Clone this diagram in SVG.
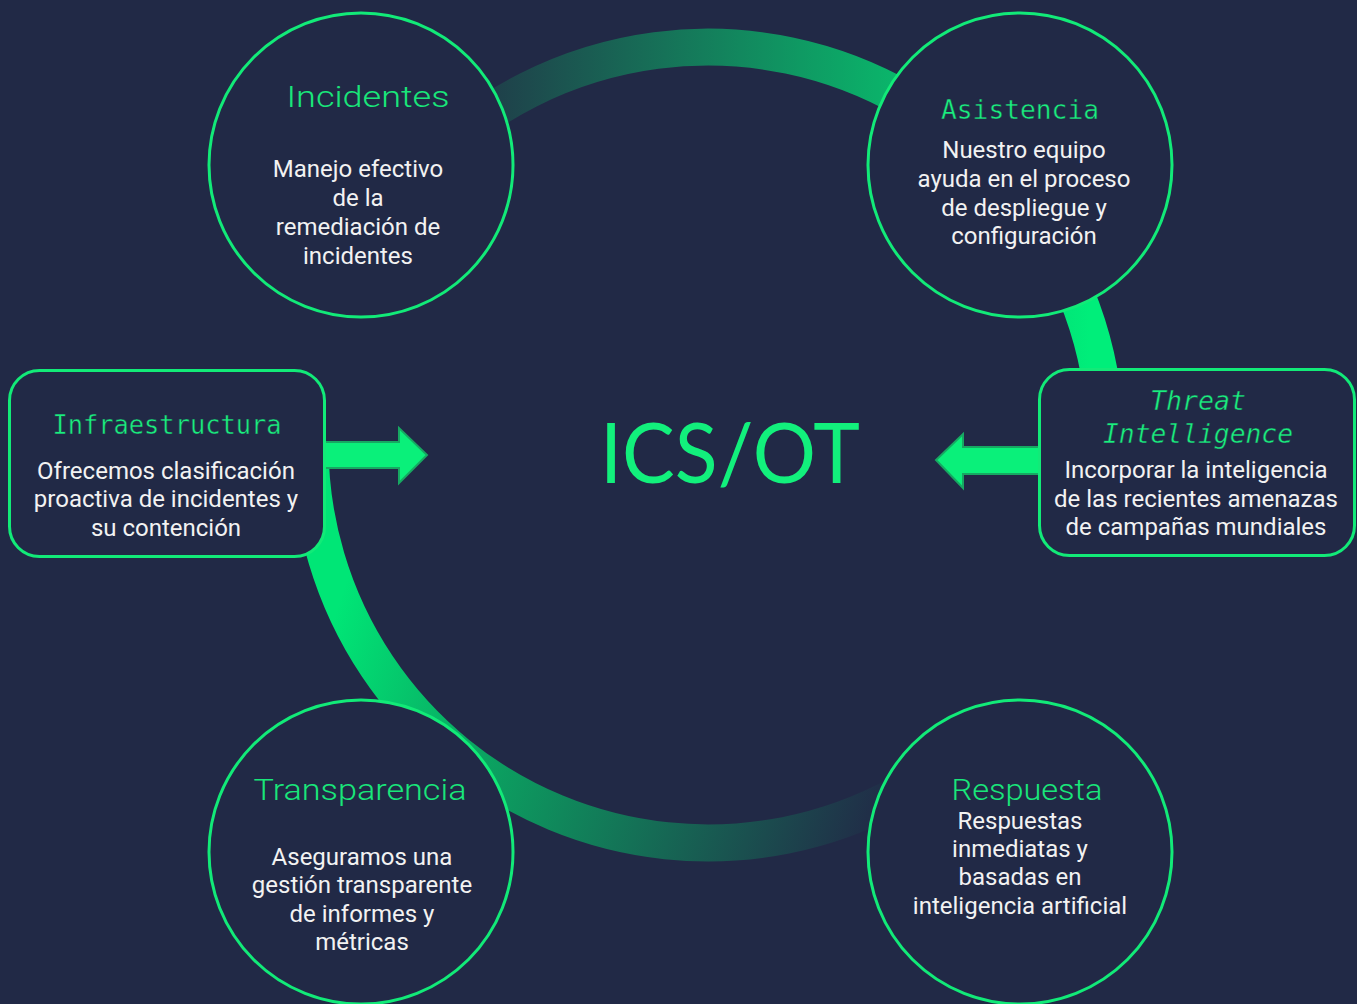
<svg xmlns="http://www.w3.org/2000/svg" width="1357" height="1004" viewBox="0 0 1357 1004">
<defs>
<style>
.bg{fill:#212946}
.node{fill:#212946;stroke:#12ea78;stroke-width:3}
.ring{fill:none;stroke-width:37}
.arrow{fill:#0af07a;stroke:#17a862;stroke-width:2;stroke-linejoin:miter}
.body{font-family:Roboto,"Liberation Sans",sans-serif;font-size:24px;fill:#f2f2f2;text-anchor:middle}
.mono{font-family:"DejaVu Sans Mono","Liberation Mono",monospace;font-size:26px;fill:#1aee7e;text-anchor:middle;stroke:#212946;stroke-width:0.4}
.sans{font-family:Roboto,"Liberation Sans",sans-serif;font-weight:300;font-size:29px;fill:#19e67a;text-anchor:middle}
.big{font-family:Lato,"Open Sans",sans-serif;font-size:84px;fill:#12f07c;text-anchor:middle}
</style>
<linearGradient id="gA" gradientUnits="userSpaceOnUse" x1="490" y1="0" x2="1090" y2="0">
<stop offset="0" stop-color="#1f3f4a"/>
<stop offset="1" stop-color="#00ee7a"/>
</linearGradient>
<linearGradient id="gB" gradientUnits="userSpaceOnUse" x1="340" y1="600" x2="880" y2="780">
<stop offset="0" stop-color="#00e676"/>
<stop offset="0.3" stop-color="#0aa862"/>
<stop offset="1" stop-color="#202f48"/>
</linearGradient>
</defs>
<rect class="bg" x="0" y="0" width="1357" height="1004"/>
<g id="connectors">
<path class="ring" stroke="url(#gA)" d="M 426.6 163.6 A 398 398 0 0 1 1092.4 548"/>
<path class="ring" stroke="url(#gB)" d="M 310 445 A 398 398 0 0 0 989.4 726.4"/>
<polygon class="arrow" points="320,442 399,442 399,428 427,455 399,483 399,468 320,468"/>
<polygon class="arrow" points="1044,447 963,447 963,434 936,460 963,488 963,474 1044,474"/>
</g>
<g id="incidentes">
<circle class="node" cx="361" cy="165" r="152"/>
<text class="sans" x="368" y="107" textLength="163" lengthAdjust="spacingAndGlyphs">Incidentes</text>
<text class="body" x="358" y="177">Manejo efectivo</text>
<text class="body" x="358" y="206">de la</text>
<text class="body" x="358" y="235">remediación de</text>
<text class="body" x="358" y="264">incidentes</text>
</g>
<g id="asistencia">
<circle class="node" cx="1020" cy="165" r="152"/>
<text class="mono" x="1020" y="119" textLength="158" lengthAdjust="spacingAndGlyphs">Asistencia</text>
<text class="body" x="1024" y="158">Nuestro equipo</text>
<text class="body" x="1024" y="187">ayuda en el proceso</text>
<text class="body" x="1024" y="216">de despliegue y</text>
<text class="body" x="1024" y="244">configuración</text>
</g>
<g id="infraestructura">
<rect class="node" x="9.5" y="370.5" width="315" height="186" rx="30"/>
<text class="mono" x="167" y="434" textLength="229" lengthAdjust="spacingAndGlyphs">Infraestructura</text>
<text class="body" x="166" y="479">Ofrecemos clasificación</text>
<text class="body" x="166" y="507">proactiva de incidentes y</text>
<text class="body" x="166" y="536">su contención</text>
</g>
<g id="threat">
<rect class="node" x="1039.5" y="369.5" width="315" height="186" rx="30"/>
<text class="mono" x="1198" y="410" font-style="italic" textLength="96" lengthAdjust="spacingAndGlyphs">Threat</text>
<text class="mono" x="1198" y="443" font-style="italic" textLength="190" lengthAdjust="spacingAndGlyphs">Intelligence</text>
<text class="body" x="1196" y="478">Incorporar la inteligencia</text>
<text class="body" x="1196" y="507">de las recientes amenazas</text>
<text class="body" x="1196" y="535">de campañas mundiales</text>
</g>
<g id="transparencia">
<circle class="node" cx="361" cy="852" r="152"/>
<text class="sans" x="360" y="800" textLength="213" lengthAdjust="spacingAndGlyphs">Transparencia</text>
<text class="body" x="362" y="865">Aseguramos una</text>
<text class="body" x="362" y="893">gestión transparente</text>
<text class="body" x="362" y="922">de informes y</text>
<text class="body" x="362" y="950">métricas</text>
</g>
<g id="respuesta">
<circle class="node" cx="1020" cy="852" r="152"/>
<text class="sans" x="1027" y="800" font-size="28" textLength="151" lengthAdjust="spacingAndGlyphs">Respuesta</text>
<text class="body" x="1020" y="829">Respuestas</text>
<text class="body" x="1020" y="857">inmediatas y</text>
<text class="body" x="1020" y="885">basadas en</text>
<text class="body" x="1020" y="914">inteligencia artificial</text>
</g>
<g id="center">
<text class="big" x="730" y="483" textLength="260" lengthAdjust="spacingAndGlyphs">ICS/OT</text>
</g>
</svg>
